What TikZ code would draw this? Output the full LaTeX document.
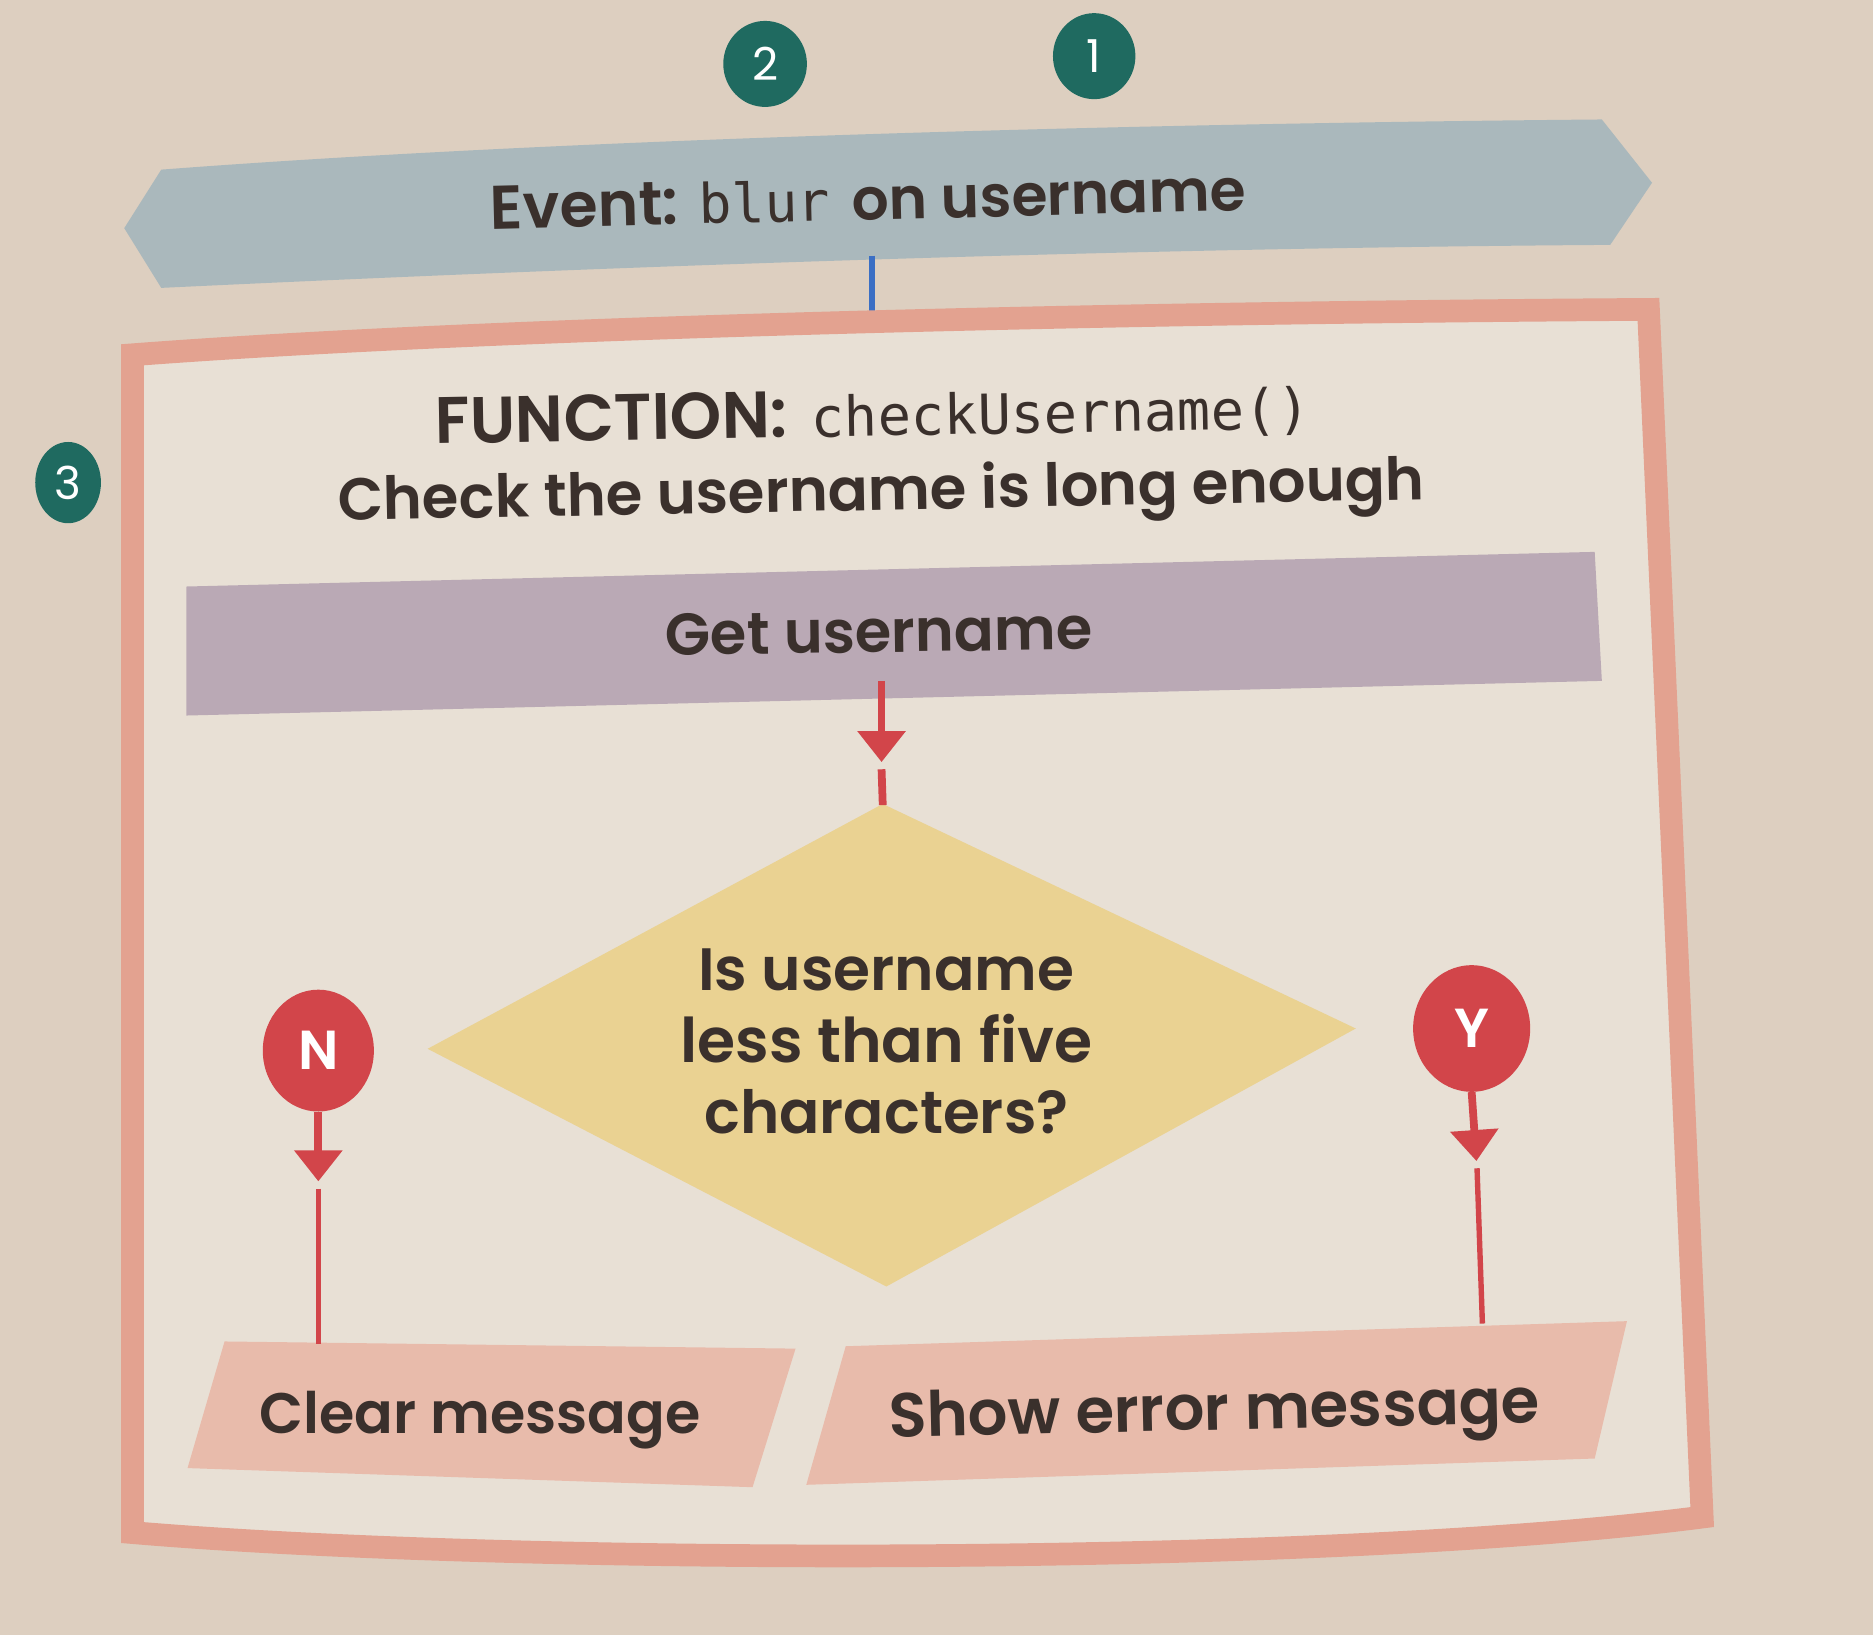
\documentclass[tikz,border=0pt]{standalone}
\usepackage{fontspec}
\setmainfont{Poppins}[BoldFont={Poppins SemiBold}]
\setmonofont{DejaVu Sans Mono}
\usetikzlibrary{arrows.meta,shapes.geometric}
\definecolor{bgout}{HTML}{DDCFC0}
\definecolor{bgin}{HTML}{E8E0D5}
\definecolor{bannerc}{HTML}{AAB8BC}
\definecolor{framec}{HTML}{E3A290}
\definecolor{getc}{HTML}{BAA9B5}
\definecolor{diac}{HTML}{EAD292}
\definecolor{pinkc}{HTML}{E8BBAB}
\definecolor{redc}{HTML}{D2454A}
\definecolor{tealc}{HTML}{1F6A60}
\definecolor{txtc}{HTML}{3A302C}
\definecolor{bluec}{HTML}{3B6FC4}
\newcommand{\fitw}[2]{\resizebox{#1}{!}{#2}}
\begin{document}
\begin{tikzpicture}[x=1pt,y=-1pt,
  lbl/.style={text=txtc,font=\fontsize{50}{58}\selectfont\bfseries,inner sep=0pt,anchor=base},
  badge/.style={ellipse,fill=tealc,text=white,inner sep=0pt,font=\fontsize{38}{38}\selectfont},
  yn/.style={ellipse,fill=redc,text=white,inner sep=0pt,font=\fontsize{46}{46}\selectfont\bfseries},
  redline/.style={draw=redc,line width=4.5pt},
  stem/.style={draw=redc,line width=6.5pt},
  tiparrow/.style={-{Triangle[width=39pt,length=26pt]}}]
\useasboundingbox (0,0) rectangle (1568,1369);
\fill[bgout] (0,0) rectangle (1568,1369);
% frame interior
\fill[bgin] (111,297) .. controls (400,275) and (900,262) .. (1380,259)
  -- (1425,1270) .. controls (1100,1312) and (430,1310) .. (111,1283) -- cycle;
% banner
\fill[bannerc] (104,191) -- (135,142) .. controls (450,118) and (900,104) .. (1341,100)
  -- (1383,153) -- (1348,205) .. controls (900,208) and (450,226) .. (135,241) -- cycle;
\coordinate (evbot) at (730,214);
\coordinate (ftop) at (730,266);
\draw[bluec,line width=4.5pt] (evbot) -- (ftop);
% frame
\draw[framec,line width=19pt,line join=miter]
  (111,297) .. controls (400,275) and (900,262) .. (1380,259)
  -- (1425,1270) .. controls (1100,1312) and (430,1310) .. (111,1283) -- cycle;
% get username box
\fill[getc] (156,491) -- (1335,462) -- (1341,570) -- (156,599) -- cycle;
% diamond
\fill[diac] (739,673) -- (1135,861) -- (742,1077) -- (358,878) -- cycle;
% output boxes
\fill[pinkc] (188,1123) -- (666,1129) -- (630,1245) -- (157,1229) -- cycle;
\fill[pinkc] (708,1127) -- (1362,1106) -- (1335,1221) -- (675,1243) -- cycle;
% texts
\node[lbl,rotate=1.4] (ev) at (727,184)
  {\fitw{158pt}{Event:}\hspace{17pt}\fitw{110pt}{\ttfamily\mdseries blur}\hspace{18pt}\fitw{330pt}{on username}};
\node[lbl,rotate=1.0] (fn) at (731,365)
  {\fitw{295pt}{FUNCTION:}\hspace{20pt}\fitw{418pt}{\ttfamily\mdseries checkUsername()}};
\node[lbl,rotate=1.1] (chk) at (738,427) {\fitw{910pt}{Check the username is long enough}};
\node[lbl,rotate=0.8] (get) at (736,546) {\fitw{358pt}{Get username}};
\node[text=txtc,font=\fontsize{50}{60}\selectfont\bfseries,inner sep=0pt,align=center] (dia) at (742,872)
  {\fitw{315pt}{Is username}\\\fitw{345pt}{less than five}\\\fitw{305pt}{characters?}};
\node[lbl] (clr) at (402,1200) {\fitw{369pt}{Clear message}};
\node[lbl,rotate=1.3] (err) at (1017,1197) {\fitw{545pt}{Show error message}};
% badges
\node[badge,minimum width=70pt,minimum height=72pt] (b2) at (640.5,53.5) {2};
\node[badge,minimum width=69pt,minimum height=72pt] (b1) at (916,47) {1};
\node[badge,minimum width=55pt,minimum height=68pt] (b3) at (57,404) {3};
% N / Y
\node[yn,minimum width=93pt,minimum height=102pt] (n) at (266.5,879.5) {N};
\node[yn,minimum width=98pt,minimum height=106pt] (y) at (1232,861) {Y};
% connectors
\coordinate (getbot) at (738,570);
\coordinate (gettip) at (738,638);
\coordinate (getres) at (738,644);
\coordinate (diatop) at (739,674);
\draw[stem,tiparrow] (getbot) -- (gettip);
\draw[stem] (getres) -- (diatop);
\coordinate (ntip) at (266.5,989);
\coordinate (nres) at (266.5,995);
\coordinate (clrtop) at (266.5,1125);
\draw[stem,tiparrow] (n.south) -- (ntip);
\draw[redline] (nres) -- (clrtop);
\coordinate (ytip) at (1236,972);
\coordinate (yres) at (1236.5,978);
\coordinate (errtop) at (1241,1108);
\draw[stem,tiparrow] (y.south) -- (ytip);
\draw[redline] (yres) -- (errtop);
\end{tikzpicture}
\end{document}
